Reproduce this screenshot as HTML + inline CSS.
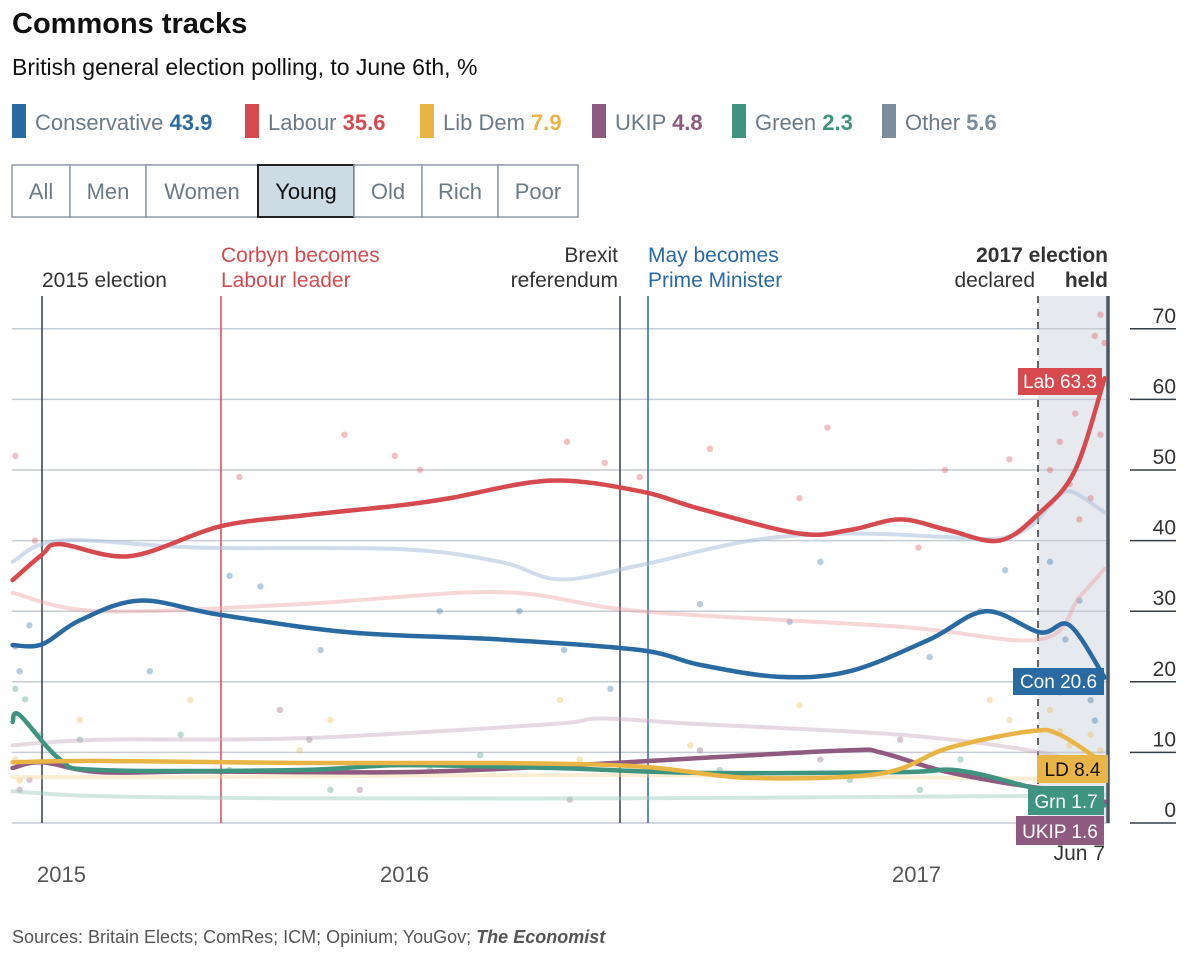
<!DOCTYPE html>
<html><head><meta charset="utf-8"><style>
body{margin:0;background:#fff;width:1200px;height:963px;overflow:hidden;font-family:"Liberation Sans",sans-serif}
</style></head><body>
<svg id="c" width="1200" height="963" xmlns="http://www.w3.org/2000/svg" style="font-family:'Liberation Sans',sans-serif">
<text x="12" y="33" font-size="29" font-weight="bold" fill="#111">Commons tracks</text>
<text x="12" y="75" font-size="23" fill="#111">British general election polling, to June 6th, %</text>
<g font-size="22">
<g><rect x="12" y="104" width="14" height="34" fill="#2a6aa3"/><text x="35" y="130" fill="#6b7a87">Conservative <tspan fill="#2a6aa3" font-weight="bold">43.9</tspan></text></g>
<g><rect x="245" y="104" width="14" height="34" fill="#d64a4f"/><text x="268" y="130" fill="#6b7a87">Labour <tspan fill="#d64a4f" font-weight="bold">35.6</tspan></text></g>
<g><rect x="420" y="104" width="14" height="34" fill="#e9b446"/><text x="443" y="130" fill="#6b7a87">Lib Dem <tspan fill="#e9b446" font-weight="bold">7.9</tspan></text></g>
<g><rect x="592" y="104" width="14" height="34" fill="#8e5a7f"/><text x="615" y="130" fill="#6b7a87">UKIP <tspan fill="#8e5a7f" font-weight="bold">4.8</tspan></text></g>
<g><rect x="732" y="104" width="14" height="34" fill="#3f9480"/><text x="755" y="130" fill="#6b7a87">Green <tspan fill="#3f9480" font-weight="bold">2.3</tspan></text></g>
<g><rect x="882" y="104" width="14" height="34" fill="#7b8c9b"/><text x="905" y="130" fill="#6b7a87">Other <tspan fill="#7b8c9b" font-weight="bold">5.6</tspan></text></g>
</g>
<g id="btns" font-size="22"></g>
<rect x="1038" y="296" width="70" height="527" fill="#e6eaee"/>
<g id="grid"></g>
<g id="events" font-size="21"></g>
<g id="dots"></g>
<g id="lines"></g>
<g id="labels" font-size="19"></g>
<g font-size="22" fill="#555">
<text x="37" y="882">2015</text>
<text x="380" y="882">2016</text>
<text x="892" y="882">2017</text>
</g>
<text x="12" y="943" font-size="18" fill="#555">Sources: Britain Elects; ComRes; ICM; Opinium; YouGov; <tspan font-style="italic" font-weight="bold">The Economist</tspan></text>
</svg>
<script>
const NS="http://www.w3.org/2000/svg";
// x values: days since 2015-05-07 election; values in %
const yTicks=[0,10,20,30,40,50,60,70];
const buttons=["All","Men","Women","Young","Old","Rich","Poor"];
const labDays=[-21,0,13,63,127,184,256,291,363,427,470,541,577,613,647,684,713,738,759];
const labVals=[34.4,38,39.5,37.8,42,43.5,45,46,48.5,47,44.5,41,41.5,43,41.5,40,44,50,63];
const conDays=[-21,0,27,70,127,220,327,427,470,527,577,634,674,713,734,759];
const conVals=[25.2,25.3,28.7,31.5,29.5,27,26,24.5,22.4,20.7,21.5,26,30,27,28,20.6];
const ldDays=[-21,41,184,327,427,506,599,647,706,727,759];
const ldVals=[8.6,8.8,8.5,8.5,8,6.4,7,10.6,13,12.5,8.4];
const grnDays=[-21,-16,13,41,184,256,363,470,613,656,713,759];
const grnVals=[14.3,15.3,9,7.5,7.5,8.2,7.8,7.1,7.2,7.4,4.7,2.5];
const ukipDays=[-21,0,41,113,256,363,470,577,599,641,684,727,759];
const ukipVals=[7.8,8.6,7.2,7.3,7.2,8,9.2,10.3,10,7.5,5.8,4.5,3];
const conAllDays=[-21,13,113,256,327,370,427,506,577,647,684,706,720,734,759];
const conAllVals=[37,40,39,38.8,37,34.5,36.5,40,41,40.5,40.3,42,45,47,44];
const labAllDays=[-21,41,184,327,427,613,713,741,759];
const labAllVals=[32.6,30,31,32.7,30,27.8,26,32,36];
const ukipAllDays=[-21,41,184,363,399,470,613,713,759];
const ukipAllVals=[11,11.8,12,14,14.8,14,12.5,10,7];
const grnAllDays=[-21,41,184,427,684,759];
const grnAllVals=[4.5,3.8,3.5,3.5,3.8,4];
const ldAllDays=[-21,100,400,700,759];
const ldAllVals=[6.5,6.5,6.8,6.3,6];
const labDotDays=[-19,-5,141,216,252,270,375,402,427,477,541,561,645,626,691,720,727,738,752,756,759,741,749,734,756];
const labDotVals=[52,40,49,55,52,50,54,51,49,53,46,56,50,39,51.5,50,54,58,69,72,68,43,46,48,55];
const conDotDays=[-19,-16,-9,77,134,156,199,284,341,373,406,470,534,556,634,670,688,720,731,741,749,752,745,727];
const conDotVals=[25,21.5,28,21.5,35,33.5,24.5,30,30,24.5,19,31,28.5,37,23.5,30,35.8,37,26,31.5,17.4,14.5,20,18.5];
const ldDotDays=[-19,-16,27,106,184,206,370,384,463,541,613,677,691,720,727,734,741,749,756,713];
const ldDotVals=[9,6,14.6,17.4,10.3,14.6,17.4,9,11,16.7,7.5,17.4,14.6,16,13,11,9,12.5,10.3,6.8];
const grnDotDays=[-19,-12,-1,27,99,134,206,277,313,484,577,627,656,684,713,727,756];
const grnDotVals=[19,17.5,12.5,11.8,12.5,7.5,4.7,7.5,9.6,7.5,6.1,4.7,9,6.1,7.5,6.1,4.7];
const ukipDotDays=[-16,-9,170,191,227,377,470,556,613,713,727,741];
const ukipDotVals=[4.7,6.1,16,11.8,4.7,3.3,10.3,9,11.8,4.7,3.3,6.8];

const X=d=>42+1.4*d, Y=v=>823-7.06*v;
function el(t,a,p){const e=document.createElementNS(NS,t);for(const k in a)e.setAttribute(k,a[k]);(p||document.getElementById('c')).appendChild(e);return e;}
function path(ds,vs){const p=ds.map((d,i)=>[X(d),Y(vs[i])]);let s=`M${p[0][0]},${p[0][1]}`;
 for(let i=0;i<p.length-1;i++){const p0=p[Math.max(0,i-1)],p1=p[i],p2=p[i+1],p3=p[Math.min(p.length-1,i+2)];
 s+=` C${p1[0]+(p2[0]-p0[0])/6},${p1[1]+(p2[1]-p0[1])/6} ${p2[0]-(p3[0]-p1[0])/6},${p2[1]-(p3[1]-p1[1])/6} ${p2[0]},${p2[1]}`;}return s;}
const bw=[58,76,112,96,68,76,80];let bx=12;const bg=document.getElementById('btns');
buttons.forEach((b,i)=>{const g=el('g',{},bg);


const sel=b==="Young";el('rect',{x:bx,y:165,width:bw[i],height:52,fill:sel?'#ccdbe4':'#fff',stroke:sel?'#222':'#8d9aa5','stroke-width':sel?2:1.5},g);
const t=el('text',{x:bx+bw[i]/2,y:199,'text-anchor':'middle',fill:sel?'#111':'#6b7a87'},g);t.textContent=b;bx+=bw[i];});
const gg=document.getElementById('grid');


yTicks.forEach(v=>{el('line',{x1:12,x2:1110,y1:Y(v),y2:Y(v),stroke:'#c5ccd3','stroke-width':1.5},gg);
el('line',{x1:1130,x2:1176,y1:Y(v),y2:Y(v),stroke:'#333d47','stroke-width':1.5},gg);
const t=el('text',{x:1176,y:Y(v)-6,'text-anchor':'end','font-size':21,fill:'#333'},gg);


t.textContent=v;});
const ev=document.getElementById('events');
function vline(x,c,dash,w){return el('line',{x1:x,x2:x,y1:296,y2:823,stroke:c,'stroke-width':w||1.5,'stroke-dasharray':dash||'none'},ev);}
vline(42,'#333d47');vline(221,'#d64a4f');vline(620,'#333d47');vline(648,'#2a6aa3');vline(1038,'#333',"7,6");vline(1108,'#4a5866',null,3.5);
function tx(x,y,s,c,anc,bold){const t=el('text',{x,y,fill:c,'text-anchor':anc||'start','font-weight':bold?'bold':'normal'},ev);t.textContent=s;return t;}
tx(42,287,'2015 election','#333');tx(221,262,'Corbyn becomes','#d64a4f');tx(221,287,'Labour leader','#d64a4f');
tx(618,262,'Brexit','#333','end');tx(618,287,'referendum','#333','end');tx(648,262,'May becomes','#2a6aa3');tx(648,287,'Prime Minister','#2a6aa3');
tx(1108,262,'2017 election','#333','end',1);tx(1035,287,'declared','#333','end');tx(1108,287,'held','#333','end',1);
const dg=document.getElementById('dots');
function dots(ds,vs,c,name){ds.forEach((d,i)=>{const e=el('circle',{cx:X(d),cy:Y(vs[i]),r:3.2,fill:c,opacity:0.35},dg);

});}
dots(labDotDays,labDotVals,'#d64a4f','labour');dots(conDotDays,conDotVals,'#2a6aa3','conservative');dots(ldDotDays,ldDotVals,'#e9b446','libdem');dots(grnDotDays,grnDotVals,'#3f9480','green');dots(ukipDotDays,ukipDotVals,'#8e5a7f','ukip');
const lg=document.getElementById('lines');
function line(ds,vs,c,w,op,name){const e=el('path',{d:path(ds,vs),fill:'none',stroke:c,'stroke-width':w,opacity:op,'stroke-linecap':'round'},lg);

}
line(conAllDays,conAllVals,'#a9c0da',4,0.55,'conservative-all-line');line(labAllDays,labAllVals,'#eba3a6',4,0.45,'labour-all-line');
line(ukipAllDays,ukipAllVals,'#c8aabf',4,0.45,'ukip-all-line');line(grnAllDays,grnAllVals,'#9ec9bd',4,0.45,'green-all-line');line(ldAllDays,ldAllVals,'#f1d9a0',4,0.45,'libdem-all-line');
line(ukipDays,ukipVals,'#8e5a7f',4.5,1,'ukip-line');line(grnDays,grnVals,'#3f9480',4.5,1,'green-line');line(ldDays,ldVals,'#e9b446',4.5,1,'libdem-line');
line(conDays,conVals,'#2a6aa3',4.5,1,'conservative-line');line(labDays,labVals,'#d64a4f',4.5,1,'labour-line');
const lb=document.getElementById('labels');
function box(x,y,w,h,c,tc,s,name){const g=el('g',{},lb);


el('rect',{x,y,width:w,height:h,fill:c},g);const t=el('text',{x:x+w/2,y:y+h-7,'text-anchor':'middle',fill:tc},g);t.textContent=s;}
const jt=el('text',{x:1105,y:860,'text-anchor':'end','font-size':21,fill:'#333'},lb);jt.textContent='Jun 7';
box(1018,368,84,27,'#d64a4f','#fff','Lab 63.3','label-labour');box(1013,668,91,27,'#2a6aa3','#fff','Con 20.6','label-conservative');
box(1037,755,71,28,'#e9b446','#111','LD 8.4','label-libdem');box(1028,786,76,29,'#3f9480','#fff','Grn 1.7','label-green');
box(1016,816,88,29,'#8e5a7f','#fff','UKIP 1.6','label-ukip');
</script>
</body></html>
